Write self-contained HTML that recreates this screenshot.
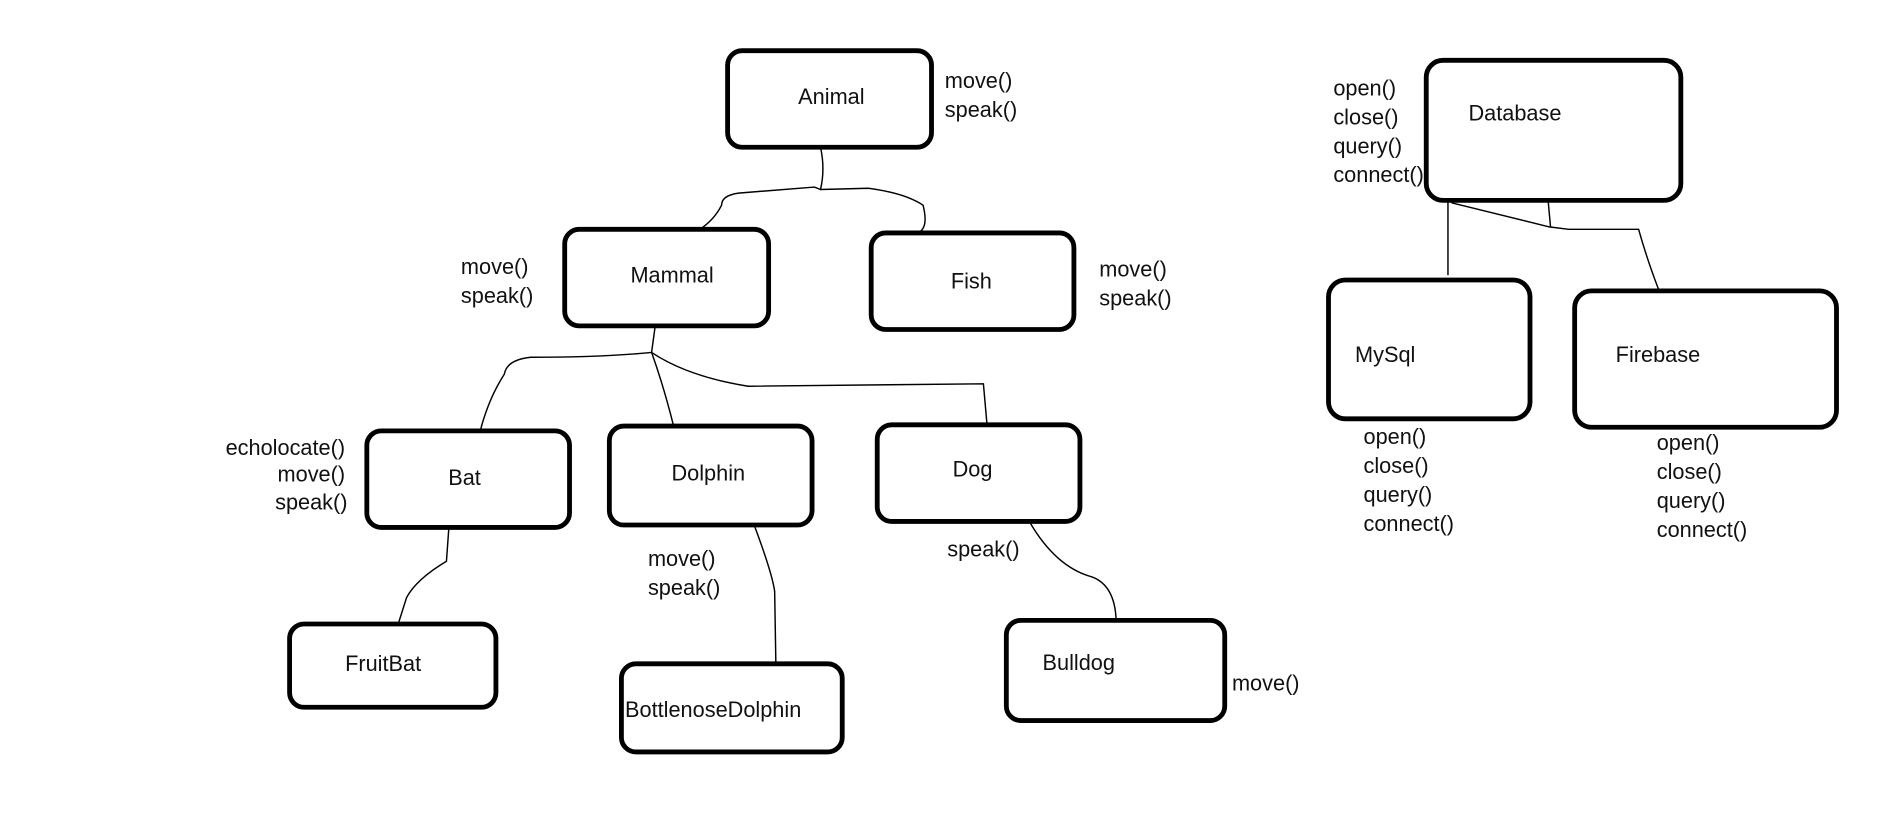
<!DOCTYPE html>
<html><head><meta charset="utf-8"><style>
html,body{margin:0;padding:0;background:#fff;}
svg{display:block;}
text{font-family:"Liberation Sans","DejaVu Sans",sans-serif;font-size:18px;fill:#111;}
</style></head><body>
<svg width="1892" height="834" viewBox="0 0 1568 691" preserveAspectRatio="none" xmlns="http://www.w3.org/2000/svg">
<g fill="none" stroke="#000" stroke-width="4">
<rect x="603" y="42" width="169" height="80" rx="12"/>
<rect x="468" y="190" width="169" height="80" rx="12"/>
<rect x="722" y="193" width="168" height="80" rx="12"/>
<rect x="304" y="357" width="168" height="80" rx="12"/>
<rect x="505" y="353" width="168" height="82" rx="12"/>
<rect x="727" y="352" width="168" height="80" rx="12"/>
<rect x="240" y="517" width="171" height="69" rx="12"/>
<rect x="515" y="550" width="183" height="73" rx="12"/>
<rect x="834" y="514" width="181" height="83" rx="12"/>
<rect x="1182" y="50" width="211" height="116" rx="14"/>
<rect x="1101" y="232" width="167" height="115" rx="14"/>
<rect x="1305" y="241" width="217" height="113" rx="14"/>
</g>
<g fill="none" stroke="#000" stroke-width="1.2">
<path d="M680,122 Q684,140 680,157 L675,155 L612,160 Q598,162 598,170 Q592,182 580,190"/>
<path d="M680,157 L720,156 Q750,160 765,170 Q770,190 760,193"/>
<path d="M543,270 L540,292 Q500,296 440,296 Q420,298 418,310 Q405,330 398,357"/>
<path d="M540,292 Q550,320 558,352"/>
<path d="M540,292 Q570,312 620,320 L815,318 L818,352"/>
<path d="M372,437 L370,465 Q345,480 337,495 L330,517"/>
<path d="M625,435 Q640,475 642,490 L643,550"/>
<path d="M853,432 Q875,470 905,478 Q924,485 925,514"/>
<path d="M1200,166 L1200,228"/>
<path d="M1203,168 L1284,188 L1300,190 L1358,190 Q1365,215 1375,241"/>
<path d="M1283,166 L1285,188"/>
</g>
<text x="689" y="86" text-anchor="middle">Animal</text>
<text x="783" y="73">move()</text><text x="783" y="97">speak()</text>
<text x="557" y="234" text-anchor="middle">Mammal</text>
<text x="382" y="227">move()</text><text x="382" y="251">speak()</text>
<text x="805" y="239" text-anchor="middle">Fish</text>
<text x="911" y="229">move()</text><text x="911" y="253">speak()</text>
<text x="385" y="402" text-anchor="middle">Bat</text>
<text x="286" y="377" text-anchor="end">echolocate()</text>
<text x="286" y="399" text-anchor="end">move()</text>
<text x="288" y="422" text-anchor="end">speak()</text>
<text x="587" y="398" text-anchor="middle">Dolphin</text>
<text x="537" y="469">move()</text><text x="537" y="493">speak()</text>
<text x="806" y="395" text-anchor="middle">Dog</text>
<text x="785" y="461">speak()</text>
<text x="286" y="556">FruitBat</text>
<text x="518" y="594">BottlenoseDolphin</text>
<text x="864" y="555">Bulldog</text>
<text x="1021" y="572">move()</text>
<text x="1217" y="100">Database</text>
<text x="1105" y="79">open()</text><text x="1105" y="103">close()</text>
<text x="1105" y="127">query()</text><text x="1105" y="151">connect()</text>
<text x="1123" y="300">MySql</text>
<text x="1130" y="368">open()</text><text x="1130" y="392">close()</text>
<text x="1130" y="416">query()</text><text x="1130" y="440">connect()</text>
<text x="1339" y="300">Firebase</text>
<text x="1373" y="373">open()</text><text x="1373" y="397">close()</text>
<text x="1373" y="421">query()</text><text x="1373" y="445">connect()</text>
</svg>
</body></html>
